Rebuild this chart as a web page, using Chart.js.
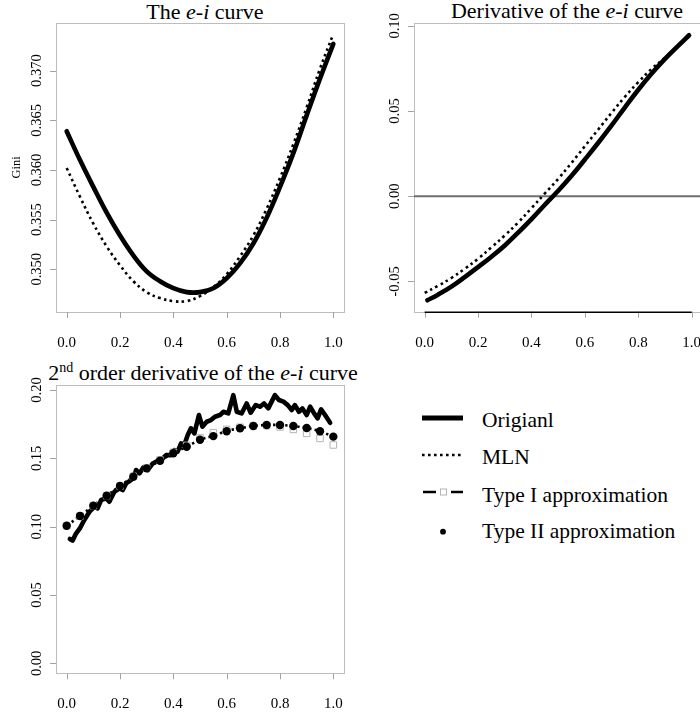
<!DOCTYPE html>
<html>
<head>
<meta charset="utf-8">
<script src="https://cdn.jsdelivr.net/npm/chart.js@4.4.0/dist/chart.umd.min.js"></script>
<style>
  html, body { margin: 0; padding: 0; background: #fff; }
  body { width: 700px; height: 713px; position: relative; overflow: hidden;
         font-family: "Liberation Serif", "Times New Roman", serif; color: #000; }
  canvas { position: absolute; }
  .title { position: absolute; font-size: 22px; line-height: 22px; white-space: nowrap; text-align: center; }
  .leg { position: absolute; left: 482px; font-size: 21.5px; line-height: 21.5px; white-space: nowrap; }
  .sup { font-size: 14px; position: relative; top: -8px; }
  #legsym { position: absolute; left: 415px; top: 400px; }
</style>
</head>
<body>

<div class="title" style="left:5px; top:1px; width:400px;">The <i>e-i</i> curve</div>
<div class="title" style="left:367px; top:0px; width:400px;">Derivative of the <i>e-i</i> curve</div>
<div class="title" style="left:3px; top:362px; width:400px;">2<span class="sup">nd</span> order derivative of the <i>e-i</i> curve</div>

<canvas id="c1" width="350" height="350" style="left:0; top:0;"></canvas>
<canvas id="c2" width="360" height="350" style="left:350px; top:0;"></canvas>
<canvas id="c3" width="350" height="373" style="left:0; top:340px;"></canvas>

<svg id="legsym" width="60" height="145">
  <line x1="7" y1="18" x2="48" y2="18" stroke="#000" stroke-width="5"/>
  <line x1="7" y1="55" x2="48" y2="55" stroke="#000" stroke-width="2.6" stroke-dasharray="2.6 3.4"/>
  <line x1="8" y1="92" x2="21" y2="92" stroke="#000" stroke-width="2.5"/>
  <line x1="36" y1="92" x2="48" y2="92" stroke="#000" stroke-width="2.5"/>
  <rect x="25.5" y="89" width="6" height="6" fill="none" stroke="#b4b4b4" stroke-width="1"/>
  <circle cx="28" cy="131.7" r="2.9" fill="#000"/>
</svg>
<div class="leg" style="top:409.5px;">Origianl</div>
<div class="leg" style="top:447px;">MLN</div>
<div class="leg" style="top:484.5px;">Type I approximation</div>
<div class="leg" style="top:521px;">Type II approximation</div>

<script>
// x ticks shared by all three panels
const xTicks = [0, 0.2, 0.4, 0.6, 0.8, 1.0];
const xLabels = ["0.0", "0.2", "0.4", "0.6", "0.8", "1.0"];

// panel 1: the e-i curve
const eiX = [0, 0.05, 0.1, 0.15, 0.2, 0.25, 0.3, 0.35, 0.4, 0.45, 0.5,
             0.55, 0.6, 0.65, 0.7, 0.75, 0.8, 0.85, 0.9, 0.95, 1.0];
const eiOrig = [0.3639, 0.3610, 0.3583, 0.3557, 0.3534, 0.3514, 0.3498, 0.3488, 0.3481, 0.3477, 0.3477,
                0.3481, 0.3491, 0.3506, 0.3526, 0.3552, 0.3583, 0.3617, 0.3655, 0.3692, 0.3727];
const eiMln = [0.3602, 0.3573, 0.3546, 0.3523, 0.3504, 0.3488, 0.3477, 0.3471, 0.3468, 0.3468, 0.3473,
               0.3482, 0.3495, 0.3513, 0.3534, 0.3561, 0.3592, 0.3626, 0.3663, 0.3702, 0.3737];
const yTicks1 = [0.350, 0.355, 0.360, 0.365, 0.370];
const yLabels1 = ["0.350", "0.355", "0.360", "0.365", "0.370"];

// panel 2: derivative
const derivXOrig = [0.01, 0.05, 0.1, 0.15, 0.2, 0.25, 0.3, 0.35, 0.4, 0.45, 0.5,
                    0.55, 0.6, 0.65, 0.7, 0.75, 0.8, 0.85, 0.9, 0.95, 0.99];
const derivOrig = [-0.0611, -0.0578, -0.0531, -0.0475, -0.0416, -0.0355, -0.0289, -0.0214, -0.0135, -0.0050, 0.0032,
                   0.0120, 0.0216, 0.0314, 0.0416, 0.0522, 0.0625, 0.0720, 0.0806, 0.0884, 0.0945];
const derivXMln = [0, 0.05, 0.1, 0.15, 0.2, 0.25, 0.3, 0.35, 0.4, 0.45, 0.5,
                   0.55, 0.6, 0.65, 0.7, 0.75, 0.8, 0.85, 0.9, 0.95, 0.99];
const derivMln = [-0.0568, -0.0526, -0.0480, -0.0426, -0.0367, -0.0300, -0.0230, -0.0154, -0.0070, 0.0016, 0.0102,
                  0.0196, 0.0294, 0.0392, 0.0490, 0.0584, 0.0670, 0.0748, 0.0814, 0.0884, 0.0945];
const yTicks2 = [-0.05, 0, 0.05, 0.10];
const yLabels2 = ["-0.05", "0.00", "0.05", "0.10"];

// panel 3: 2nd order derivative
const secX = [0.012, 0.022, 0.035, 0.050, 0.065, 0.085, 0.104, 0.116, 0.129, 0.148,
              0.160, 0.179, 0.198, 0.210, 0.223, 0.241, 0.254, 0.260, 0.273, 0.288,
              0.304, 0.323, 0.335, 0.354, 0.373, 0.391, 0.404, 0.416, 0.429, 0.441,
              0.454, 0.466, 0.479, 0.496, 0.509, 0.525, 0.541, 0.556, 0.575, 0.588,
              0.606, 0.625, 0.638, 0.656, 0.675, 0.690, 0.709, 0.725, 0.740, 0.756,
              0.781, 0.796, 0.813, 0.829, 0.844, 0.856, 0.871, 0.884, 0.900, 0.913,
              0.928, 0.941, 0.954, 0.969, 0.988];
const secOrig = [0.0910, 0.0898, 0.0950, 0.0990, 0.1045, 0.1108, 0.1146, 0.1134, 0.1195, 0.1207,
                 0.1183, 0.1256, 0.1280, 0.1268, 0.1317, 0.1341, 0.1366, 0.1415, 0.1390, 0.1434,
                 0.1415, 0.1463, 0.1476, 0.1488, 0.1524, 0.1524, 0.1561, 0.1549, 0.1610, 0.1598,
                 0.1671, 0.1720, 0.1683, 0.1817, 0.1732, 0.1768, 0.1780, 0.1805, 0.1817, 0.1841,
                 0.1829, 0.1963, 0.1841, 0.1829, 0.1902, 0.1834, 0.1890, 0.1878, 0.1902, 0.1866,
                 0.1963, 0.1927, 0.1915, 0.1890, 0.1854, 0.1890, 0.1841, 0.1866, 0.1817, 0.1878,
                 0.1829, 0.1793, 0.1859, 0.1817, 0.1761];
const approxX = [0, 0.05, 0.1, 0.15, 0.2, 0.25, 0.3, 0.35, 0.4, 0.45, 0.5,
                 0.55, 0.6, 0.65, 0.7, 0.75, 0.8, 0.85, 0.9, 0.95, 1.0];
const secMln = [0.1007, 0.1078, 0.1154, 0.1227, 0.1298, 0.1366, 0.1427, 0.1483, 0.1537, 0.1585, 0.1635,
                0.1665, 0.1700, 0.1720, 0.1737, 0.1744, 0.1744, 0.1737, 0.1722, 0.1698, 0.1659];
const typeI = [0.1007, 0.1078, 0.1154, 0.1227, 0.1298, 0.1368, 0.1430, 0.1488, 0.1544, 0.1595, 0.1650,
               0.1688, 0.1712, 0.1728, 0.1738, 0.1740, 0.1730, 0.1712, 0.1683, 0.1646, 0.1598];
const typeII = [0.1007, 0.1078, 0.1154, 0.1227, 0.1298, 0.1366, 0.1427, 0.1483, 0.1537, 0.1585, 0.1636,
                0.1663, 0.1698, 0.1720, 0.1737, 0.1744, 0.1744, 0.1737, 0.1722, 0.1698, 0.1659];
const yTicks3 = [0, 0.05, 0.10, 0.15, 0.20];
const yLabels3 = ["0.00", "0.05", "0.10", "0.15", "0.20"];

const BOX_GRAY = "#bdbdbd";
const TICK_GRAY = "#a4a4a4";
const SERIF = '"Liberation Serif", "Times New Roman", serif';

function pts(xs, ys) {
  return xs.map((x, i) => ({ x: x, y: ys[i] }));
}

function solidLine(xs, ys, smooth) {
  return {
    data: pts(xs, ys), borderColor: "#000", borderWidth: 4.6, pointRadius: 0,
    fill: false, borderJoinStyle: "round", borderCapStyle: "round",
    tension: smooth ? 0.4 : 0
  };
}

function dottedLine(xs, ys) {
  return {
    data: pts(xs, ys), borderColor: "#000", borderWidth: 2.6, borderDash: [2.6, 3.4],
    borderCapStyle: "butt", pointRadius: 0, fill: false, tension: 0.4
  };
}

// R style box, ticks and rotated y labels
function rAxes(spec) {
  return {
    id: "rAxes",
    beforeDatasetsDraw(chart) {
      const { ctx, chartArea: a, scales } = chart;
      ctx.save();
      ctx.lineWidth = 1;
      ctx.strokeStyle = BOX_GRAY;
      ctx.strokeRect(Math.round(a.left) + 0.5, Math.round(a.top) + 0.5,
                     Math.round(a.right - a.left), Math.round(a.bottom - a.top));
      if (spec.zeroLine) {
        const py = scales.y.getPixelForValue(0);
        ctx.strokeStyle = "#6e6e6e";
        ctx.lineWidth = 2;
        ctx.beginPath();
        ctx.moveTo(a.left, py);
        ctx.lineTo(a.right, py);
        ctx.stroke();
      }
      ctx.restore();
    },
    afterDraw(chart) {
      const { ctx, chartArea: a, scales } = chart;
      const sx = scales.x, sy = scales.y;
      ctx.save();
      ctx.lineWidth = 1;
      ctx.strokeStyle = TICK_GRAY;
      ctx.beginPath();
      xTicks.forEach(v => {
        const px = Math.round(sx.getPixelForValue(v)) + 0.5;
        ctx.moveTo(px, a.bottom);
        ctx.lineTo(px, a.bottom + 6);
      });
      spec.yTicks.forEach(v => {
        const py = Math.round(sy.getPixelForValue(v)) + 0.5;
        ctx.moveTo(a.left, py);
        ctx.lineTo(a.left - 6, py);
      });
      ctx.stroke();
      if (spec.blackXAxis) {
        ctx.strokeStyle = "#000";
        ctx.lineWidth = 1.5;
        ctx.beginPath();
        ctx.moveTo(sx.getPixelForValue(0), a.bottom + 0.5);
        ctx.lineTo(sx.getPixelForValue(1), a.bottom + 0.5);
        ctx.stroke();
      }
      ctx.fillStyle = "#000";
      ctx.textAlign = "center";
      ctx.textBaseline = "alphabetic";
      ctx.font = "15px " + SERIF;
      xTicks.forEach((v, i) => ctx.fillText(xLabels[i], sx.getPixelForValue(v), a.bottom + 35));
      ctx.font = "14.5px " + SERIF;
      spec.yTicks.forEach((v, i) => {
        ctx.save();
        ctx.translate(a.left - 15, sy.getPixelForValue(v));
        ctx.rotate(-Math.PI / 2);
        ctx.fillText(spec.yLabels[i], 0, 0);
        ctx.restore();
      });
      if (spec.yTitle) {
        ctx.font = "12.5px " + SERIF;
        ctx.save();
        ctx.translate(a.left - 36, (a.top + a.bottom) / 2);
        ctx.rotate(-Math.PI / 2);
        ctx.fillText(spec.yTitle, 0, 0);
        ctx.restore();
      }
      ctx.restore();
    }
  };
}

function panel(id, datasets, yMin, yMax, pad, spec) {
  return new Chart(document.getElementById(id), {
    type: "line",
    data: { datasets: datasets },
    options: {
      responsive: false,
      animation: false,
      devicePixelRatio: 1,
      layout: { padding: pad },
      plugins: { legend: { display: false }, tooltip: { enabled: false } },
      scales: {
        x: { type: "linear", min: -0.04, max: 1.04, display: false },
        y: { type: "linear", min: yMin, max: yMax, display: false }
      }
    },
    plugins: [rAxes(spec)]
  });
}

panel("c1",
  [solidLine(eiX, eiOrig, true), dottedLine(eiX, eiMln)],
  0.3457, 0.3748,
  { left: 56, top: 23, right: 6, bottom: 38 },
  { yTicks: yTicks1, yLabels: yLabels1, yTitle: "Gini" });

panel("c2",
  [solidLine(derivXOrig, derivOrig, true), dottedLine(derivXMln, derivMln)],
  -0.0678, 0.1017,
  { left: 64, top: 23, right: 7.6, bottom: 38.3 },
  { yTicks: yTicks2, yLabels: yLabels2, zeroLine: true, blackXAxis: true });

panel("c3",
  [
    { data: pts(approxX, typeII), showLine: false, pointStyle: "circle", pointRadius: 4.2,
      pointBackgroundColor: "#000", pointBorderColor: "#000", pointBorderWidth: 0 },
    { data: pts(approxX, typeI), showLine: false, pointStyle: "rect", pointRadius: 4.6,
      pointBackgroundColor: "rgba(0,0,0,0)", pointBorderColor: "#b4b4b4", pointBorderWidth: 1 },
    dottedLine(approxX, secMln),
    solidLine(secX, secOrig, false)
  ],
  -0.0073, 0.2037,
  { left: 56, top: 45, right: 6, bottom: 39.7 },
  { yTicks: yTicks3, yLabels: yLabels3 });
</script>
</body>
</html>
